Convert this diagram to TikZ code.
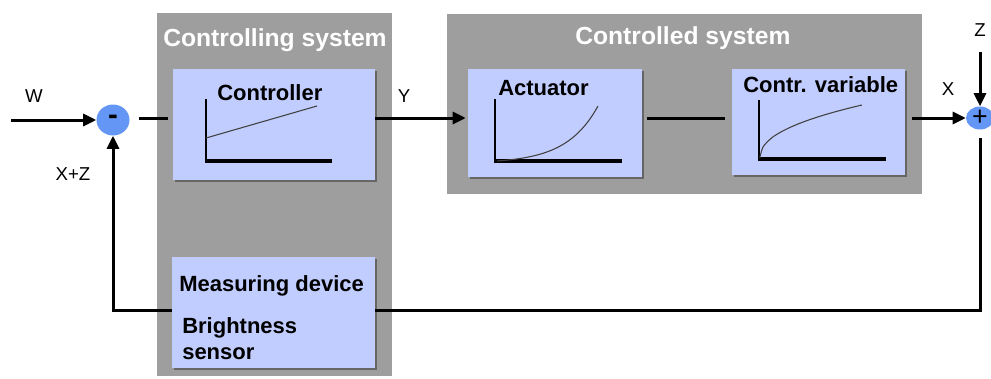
\documentclass[tikz,border=0pt]{standalone}
\usepackage{fontspec}
\setmainfont{Liberation Sans}
\usetikzlibrary{arrows.meta,shadows,calc,shapes.geometric}

\definecolor{panelgray}{RGB}{158,158,158}
\definecolor{blockblue}{RGB}{194,205,255}
\definecolor{sumblue}{RGB}{100,150,245}

\begin{document}
\begin{tikzpicture}[x=0.75pt,y=-0.75pt,
        >={Triangle[length=9.75pt,width=9pt]},
        block/.style={fill=blockblue, inner sep=0pt,
            drop shadow={shadow xshift=1.5pt, shadow yshift=-1.5pt, fill=black, opacity=0.35}},
        title/.style={anchor=base west, inner sep=0pt, text=white, font=\fontsize{18.5}{21}\selectfont\bfseries},
        lbl/.style={anchor=base west, inner sep=0pt, font=\fontsize{16.5}{19}\selectfont\bfseries},
        sigl/.style={anchor=base, inner sep=0pt, font=\fontsize{14}{16}\selectfont},
        sum/.style={ellipse, fill=sumblue, inner sep=0pt, minimum width=24.75pt, minimum height=23.25pt},
        sig/.style={line width=2.25pt},
        axisv/.style={line width=1.1pt},
        axish/.style={line width=3pt},
        curve/.style={line width=0.8pt, black!75}]
    \useasboundingbox (0,0) rectangle (991,378);

    % panels
    \fill[panelgray] (157,13) rectangle (392,376);
    \fill[panelgray] (447,14) rectangle (922,194);
    \node[title] (t1) at (163,47) {Controlling system};
    \node[title] (t2) at (575,45) {Controlled system};

    % blocks
    \node[block, minimum width=151.5pt, minimum height=83.25pt] (ctrl) at (274,124.5) {};
    \node[block, minimum width=130.5pt, minimum height=81pt] (act) at (555,123) {};
    \node[block, minimum width=129.75pt, minimum height=79.5pt] (cv) at (818.5,122) {};
    \node[block, minimum width=152.25pt, minimum height=83.25pt] (meas) at (273.5,312.5) {};

    \node[lbl] (ctrltxt) at (217,100.5) {Controller};
    \node[lbl] (acttxt) at (498,95) {Actuator};
    \node[lbl] (cvtxt) at (743,93) {Contr. variable};
    \node[lbl] (meastxt) at (179,291) {Measuring device};
    \node[lbl] (senstxt) at (182,333) {Brightness};
    \node[lbl] (senstxt2) at (182,359) {sensor};

    % small graphs
    \draw[axisv] (206,99) -- (206,161);
    \draw[axish] (205,161) -- (332,161);
    \draw[curve] (206,138) -- (317,106);

    \draw[axisv] (495,99) -- (495,161);
    \draw[axish] (494,161) -- (622,161);
    \draw[curve] plot[smooth, domain=0:1, samples=30] ({497+101*\x},{161-55*(exp(3.2*\x)-1)/(exp(3.2)-1)});

    \draw[axisv] (759,100) -- (759,159);
    \draw[axish] (758,159) -- (886,159);
    \draw[curve] (760,158) -- plot[smooth, domain=0.0005:1, samples=40] ({760+102*\x},{158-53*(\x)^0.45});

    % summing points
    \node[sum] (minus) at (113,120) {\fontsize{22}{22}\selectfont\bfseries\raisebox{-2pt}{-}};
    \node[sum, minimum width=21pt, minimum height=17.25pt] (plus) at (980,118) {\fontsize{20}{20}\selectfont +};

    \coordinate (lvl) at (0,118);
    \coordinate (win) at (11,120);
    \coordinate (zin) at (980,52);
    \coordinate (fb) at (0,310);

    % signals
    \draw[sig,->] (win) -- (minus);
    \draw[sig] ($(minus.east|-lvl)+(9,0)$) -- ($(ctrl.west|-lvl)+(-5,0)$);
    \draw[sig,->] (ctrl.east|-lvl) -- ($(act.west|-lvl)+(-2,0)$);
    \draw[sig] ($(act.east|-lvl)+(5,0)$) -- ($(cv.west|-lvl)+(-7,0)$);
    \draw[sig,->] ($(cv.east|-lvl)+(7,0)$) -- (plus);
    \draw[sig,->] (zin) -- (plus);
    \draw[sig, shorten <=6pt] (plus) |- (meas.east|-fb);
    \draw[sig,->] (meas.west|-fb) -| (minus);

    \node[sigl] (wl) at (34,103) {W};
    \node[sigl] (yl) at (404,102) {Y};
    \node[sigl] (xl) at (948,95) {X};
    \node[sigl] (zl) at (980,37) {Z};
    \node[sigl] (xzl) at (73,180) {X+Z};
\end{tikzpicture}
\end{document}
